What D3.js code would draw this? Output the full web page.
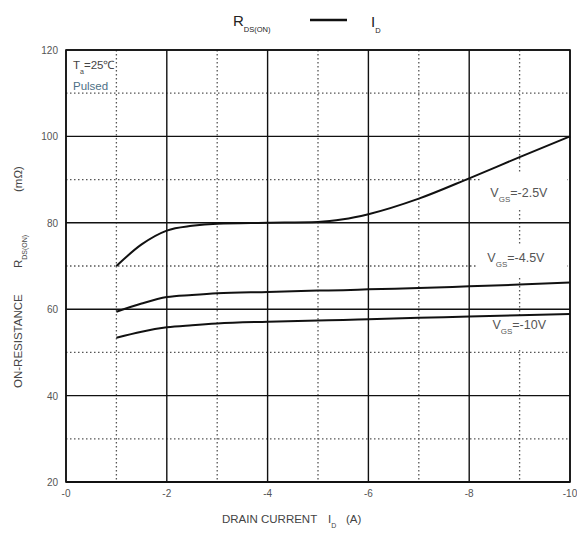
<!DOCTYPE html>
<html lang="en">
<head>
<meta charset="UTF-8" />
<title>RDS(ON) vs ID</title>
<script src="https://d3js.org/d3.v7.min.js"></script>
<style>
  body { margin: 0; background: #fff; }
  text { font-family: "Liberation Sans", Arial, sans-serif; fill: #333; }
</style>
</head>
<body>
<div id="chart"></div>
<script>
  // drain current (A) and on-resistance (mΩ)
  const idVals = [1, 1.5, 2, 2.5, 3, 4, 5, 5.5, 6, 7, 8, 9, 10];
  const vgs25 = [70, 75, 78.2, 79.3, 79.8, 80, 80.2, 80.8, 82, 85.6, 90.3, 95.2, 100];
  const vgs45 = [59.4, 61.3, 62.8, 63.3, 63.7, 64, 64.3, 64.4, 64.6, 64.9, 65.3, 65.7, 66.2];
  const vgs10 = [53.4, 54.8, 55.8, 56.3, 56.7, 57.1, 57.4, 57.5, 57.7, 58, 58.3, 58.6, 58.9];
  const xTicks = [0, 2, 4, 6, 8, 10];
  const yTicks = [20, 40, 60, 80, 100, 120];
  const xMinor = [1, 3, 5, 7, 9];
  const yMinor = [30, 50, 70, 90, 110];

  const width = 577, height = 533;
  const svg = d3.select("#chart").append("svg").attr("width", width).attr("height", height);

  const x = d3.scaleLinear().domain([0, 10]).range([66, 570]);
  const y = d3.scaleLinear().domain([20, 120]).range([482, 50]);

  // minor dotted grid
  svg.append("g").selectAll("line").data(xMinor).enter().append("line")
    .attr("x1", d => x(d)).attr("x2", d => x(d)).attr("y1", y(120)).attr("y2", y(20))
    .attr("stroke", "#555").attr("stroke-width", 1.3).attr("stroke-dasharray", "1.5,2.5");
  svg.append("g").selectAll("line").data(yMinor).enter().append("line")
    .attr("x1", x(0)).attr("x2", x(10)).attr("y1", d => y(d)).attr("y2", d => y(d))
    .attr("stroke", "#555").attr("stroke-width", 1.3).attr("stroke-dasharray", "1.5,2.5");

  // major solid grid
  svg.append("g").selectAll("line").data(xTicks).enter().append("line")
    .attr("x1", d => x(d)).attr("x2", d => x(d)).attr("y1", y(120)).attr("y2", y(20))
    .attr("stroke", "#111").attr("stroke-width", 1.4);
  svg.append("g").selectAll("line").data(yTicks).enter().append("line")
    .attr("x1", x(0)).attr("x2", x(10)).attr("y1", d => y(d)).attr("y2", d => y(d))
    .attr("stroke", "#111").attr("stroke-width", 1.4);

  // white backing behind curve labels (covers grid only)
  const labels = [
    { v: "=-2.5V", lx: 8.42, ly: 86, bx: 481, by: 173, bw: 86, bh: 36 },
    { v: "=-4.5V", lx: 8.36, ly: 71, bx: 478, by: 246, bw: 89, bh: 30 },
    { v: "=-10V", lx: 8.46, ly: 55.5, bx: 483, by: 317, bw: 84, bh: 31 }
  ];
  labels.forEach(l => {
    svg.append("rect").attr("x", l.bx).attr("y", l.by).attr("width", l.bw).attr("height", l.bh).attr("fill", "#fff");
  });

  svg.append("rect").attr("x", x(0)).attr("y", y(120))
    .attr("width", x(10) - x(0)).attr("height", y(20) - y(120))
    .attr("fill", "none").attr("stroke", "#111").attr("stroke-width", 1.6);
  svg.append("line").attr("x1", x(0)).attr("x2", x(10)).attr("y1", y(20)).attr("y2", y(20))
    .attr("stroke", "#111").attr("stroke-width", 2.2);

  // tick labels
  svg.append("g").selectAll("text").data(yTicks).enter().append("text")
    .attr("x", x(0) - 8).attr("y", d => y(d) + 4).attr("text-anchor", "end")
    .style("font-size", "10px").style("fill", "#555").text(d => d);
  svg.append("g").selectAll("text").data(xTicks).enter().append("text")
    .attr("x", d => x(d)).attr("y", y(20) + 15).attr("text-anchor", "middle")
    .style("font-size", "10px").style("fill", "#555").text(d => "-" + d);

  // curves
  const line = d3.line().x(d => x(d[0])).y(d => y(d[1])).curve(d3.curveMonotoneX);
  [vgs25, vgs45, vgs10].forEach(s => {
    svg.append("path").datum(idVals.map((v, i) => [v, s[i]]))
      .attr("d", line).attr("fill", "none").attr("stroke", "#111").attr("stroke-width", 2);
  });

  // curve labels
  labels.forEach(l => {
    const t = svg.append("text").attr("x", x(l.lx)).attr("y", y(l.ly)).style("font-size", "12.5px").style("fill", "#555");
    t.append("tspan").text("V");
    t.append("tspan").attr("dy", 5).style("font-size", "8px").text("GS");
    t.append("tspan").attr("dy", -5).text(l.v);
  });

  // conditions
  const ta = svg.append("text").attr("x", 73).attr("y", 69).style("font-size", "11.5px").style("fill", "#444");
  ta.append("tspan").text("T");
  ta.append("tspan").attr("dy", 5).style("font-size", "7px").text("a");
  ta.append("tspan").attr("dy", -5).text("=25℃");
  svg.append("text").attr("x", 73).attr("y", 90).style("font-size", "11.5px").style("fill", "#4d6f86").text("Pulsed");

  // title
  const tt = svg.append("text").attr("x", 233).attr("y", 26).style("font-size", "15px").style("fill", "#222");
  tt.append("tspan").text("R");
  tt.append("tspan").attr("dy", 6).style("font-size", "7.5px").text("DS(ON)");
  svg.append("line").attr("x1", 310).attr("x2", 347).attr("y1", 20).attr("y2", 20)
    .attr("stroke", "#111").attr("stroke-width", 2.4);
  const ti = svg.append("text").attr("x", 371).attr("y", 27).style("font-size", "15px").style("fill", "#222");
  ti.append("tspan").text("I");
  ti.append("tspan").attr("dy", 6).style("font-size", "7.5px").text("D");

  // axis titles
  const xt = svg.append("text").attr("x", 222).attr("y", 523).style("font-size", "11.5px").style("fill", "#444");
  xt.append("tspan").text("DRAIN CURRENT");
  xt.append("tspan").attr("x", 328).text("I");
  xt.append("tspan").attr("dy", 5).style("font-size", "7px").text("D");
  xt.append("tspan").attr("x", 346).attr("dy", -5).text("(A)");

  const yt = svg.append("text").attr("transform", "translate(22,388) rotate(-90)")
    .style("font-size", "11.5px").style("fill", "#444");
  yt.append("tspan").text("ON-RESISTANCE");
  yt.append("tspan").attr("x", 120).text("R");
  yt.append("tspan").attr("dy", 5).style("font-size", "7px").text("DS(ON)");
  yt.append("tspan").attr("x", 196).attr("dy", -5).text("(mΩ)");
</script>
</body>
</html>
